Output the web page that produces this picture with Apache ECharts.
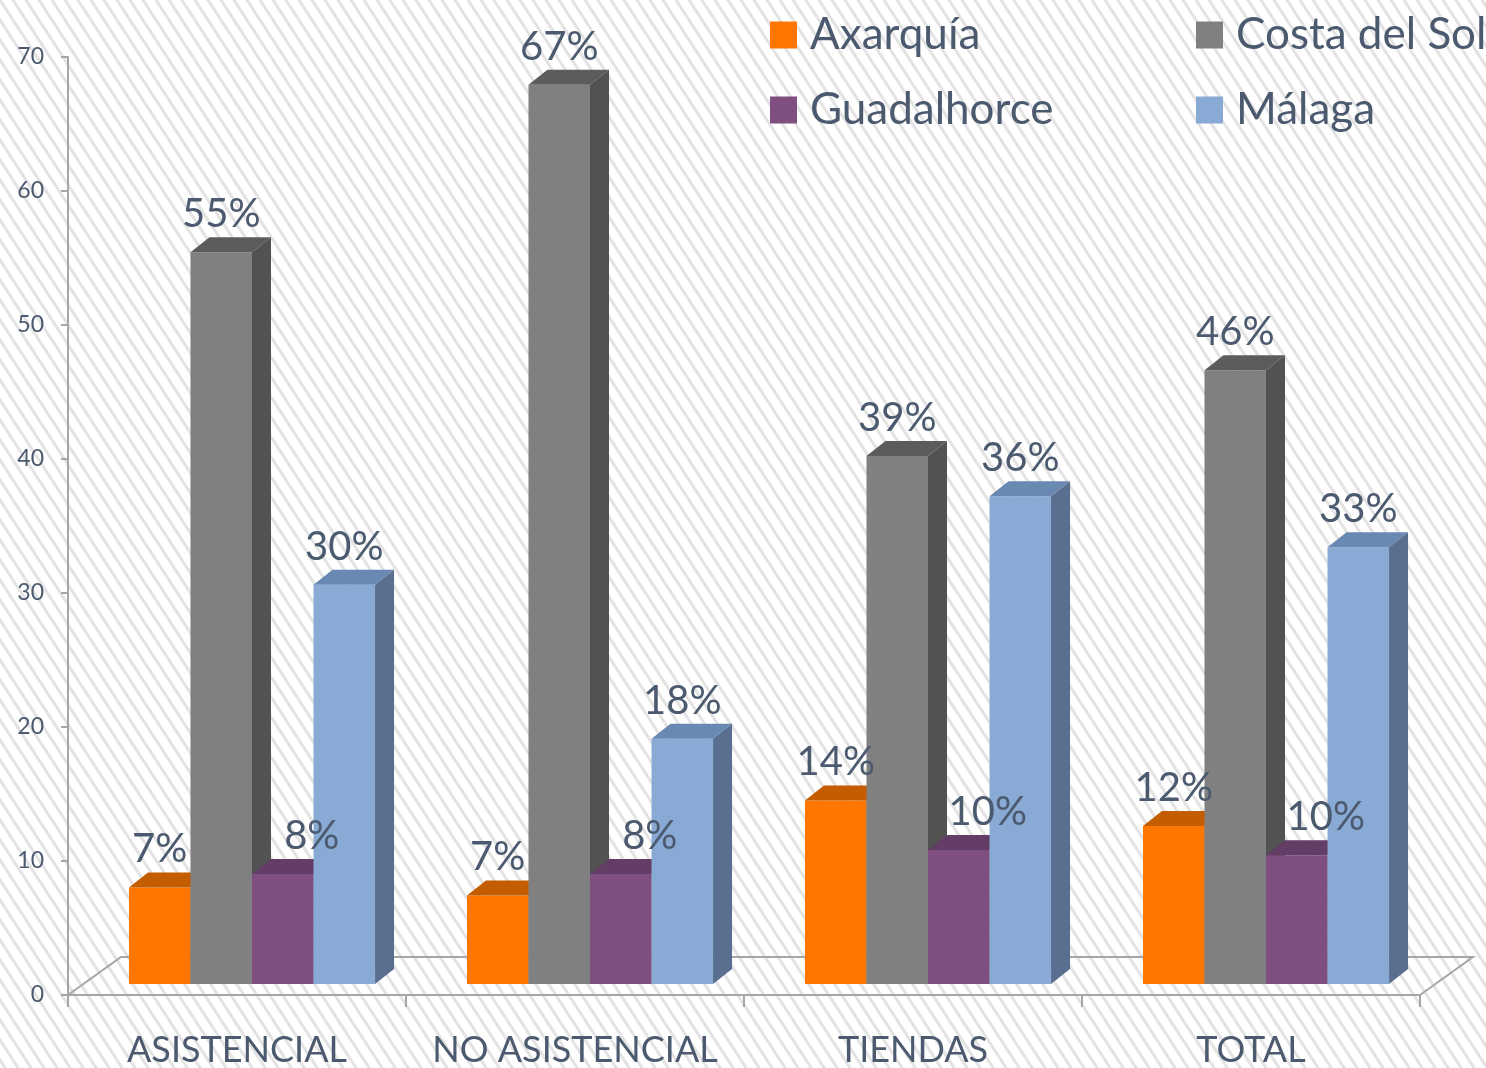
<!DOCTYPE html>
<html>
<head>
<meta charset="utf-8">
<title>Chart</title>
<script src="https://cdn.jsdelivr.net/npm/echarts@6/dist/echarts.min.js"></script>
<style>
  html, body { margin: 0; padding: 0; background: #fff; }
  #chart { width: 1486px; height: 1068px; }
</style>
</head>
<body>
<div id="chart"></div>
<script>
// datos
const categories = ['ASISTENCIAL', 'NO ASISTENCIAL', 'TIENDAS', 'TOTAL'];
const seriesNames = ['Axarquía', 'Costa del Sol', 'Guadalhorce', 'Málaga'];
const axarquia = [7.2, 6.6, 13.7, 11.8];
const costaDelSol = [54.6, 67.1, 39.4, 45.8];
const guadalhorce = [8.2, 8.2, 10.0, 9.6];
const malaga = [29.8, 18.3, 36.4, 32.6];
const yTicks = [0, 10, 20, 30, 40, 50, 60, 70];

// colores: frente, tapa, lateral; dx = desplazamiento de la etiqueta
const palette = [
  { front: '#FF7700', top: '#C45C00', side: '#B05200', dx: 0 },
  { front: '#808080', top: '#5C5C5C', side: '#525252', dx: 0 },
  { front: '#7F4F81', top: '#633D66', side: '#5A375C', dx: 29 },
  { front: '#89AAD4', top: '#6A89B2', side: '#5A6F90', dx: 0 }
];
const textColor = '#4B5A6E';
const lineColor = '#A6A6A6';
const FONT = 'Lato, "Open Sans", sans-serif';

// fondo rayado
const makePattern = () => {
  const w = 13, h = 20;
  const c = document.createElement('canvas');
  c.width = w; c.height = h;
  const ctx = c.getContext('2d');
  ctx.fillStyle = '#ffffff';
  ctx.fillRect(0, 0, w, h);
  ctx.strokeStyle = '#E3E3E3';
  ctx.lineWidth = 3;
  for (let k = -1; k <= 1; k++) {
    ctx.beginPath();
    ctx.moveTo(k * w - w, -h);
    ctx.lineTo(k * w + 2 * w, 2 * h);
    ctx.stroke();
  }
  return c;
};

const chart = echarts.init(document.getElementById('chart'));

const DX = 19, DY = 15;     // profundidad de las barras
const LIFT = 11, SHIFT = 15; // barras a media profundidad del suelo

// geometría común de una barra
const barBox = (api, idx) => {
  const ci = api.value(0);
  const v = api.value(1);
  const base = api.coord([ci, 0]);
  const top = api.coord([ci, v]);
  const band = api.size([1, 0])[0];
  const bw = band * 0.182;
  const cx = base[0] + (idx - 1.5) * bw + SHIFT;
  return { v, cx, bw, x0: cx - bw / 2, x1: cx + bw / 2, yb: base[1] - LIFT, yt: top[1] - LIFT };
};

const makeBarSeries = (name, values, idx) => ({
  name,
  type: 'custom',
  z: 2,
  itemStyle: { color: palette[idx].front },
  encode: { x: 0, y: 1 },
  data: values.map((v, i) => [i, v]),
  renderItem: (params, api) => {
    const b = barBox(api, idx);
    const col = palette[idx];
    return {
      type: 'group',
      children: [
        {
          type: 'rect',
          shape: { x: b.x0, y: b.yt, width: b.bw, height: b.yb - b.yt },
          style: { fill: col.front }
        },
        {
          type: 'polygon',
          shape: { points: [[b.x0, b.yt], [b.x0 + DX, b.yt - DY], [b.x1 + DX, b.yt - DY], [b.x1, b.yt]] },
          style: { fill: col.top }
        },
        {
          type: 'polygon',
          shape: { points: [[b.x1, b.yt], [b.x1 + DX, b.yt - DY], [b.x1 + DX, b.yb - DY], [b.x1, b.yb]] },
          style: { fill: col.side }
        }
      ]
    };
  }
});

// etiquetas encima de todas las barras
const makeLabelSeries = (name, values, idx) => ({
  name: name + ' etiqueta',
  type: 'custom',
  z: 5,
  silent: true,
  encode: { x: 0, y: 1 },
  data: values.map((v, i) => [i, v]),
  renderItem: (params, api) => {
    const b = barBox(api, idx);
    return {
      type: 'text',
      style: {
        text: Math.round(b.v) + '%',
        x: b.cx + palette[idx].dx,
        y: b.yt - DY - 3,
        align: 'center',
        verticalAlign: 'bottom',
        fill: textColor,
        font: '40px ' + FONT
      }
    };
  }
});

// suelo en perspectiva
const floorSeries = {
  name: 'suelo',
  type: 'custom',
  silent: true,
  encode: { x: 0, y: 1 },
  data: [[0, 0]],
  z: 1,
  renderItem: (params, api) => {
    const band = api.size([1, 0])[0];
    const p0 = api.coord([0, 0]);
    const p3 = api.coord([categories.length - 1, 0]);
    const left = p0[0] - band / 2;
    const right = p3[0] + band / 2;
    const y0 = p0[1];
    return {
      type: 'polyline',
      shape: { points: [[left, y0], [left + 53, y0 - 38], [right + 53, y0 - 38], [right, y0]] },
      style: { stroke: lineColor, lineWidth: 2, fill: null }
    };
  }
};

const legendCommon = {
  orient: 'vertical',
  top: 8,
  icon: 'rect',
  itemWidth: 27,
  itemHeight: 27,
  itemGap: 31,
  textStyle: { color: textColor, fontSize: 44, fontFamily: FONT, padding: [0, 0, 0, 8] },
  selectedMode: false
};

const option = {
  backgroundColor: { image: makePattern(), repeat: 'repeat' },
  animation: false,
  legend: [
    Object.assign({}, legendCommon, { left: 765, data: ['Axarquía', 'Guadalhorce'] }),
    Object.assign({}, legendCommon, { left: 1191, data: ['Costa del Sol', 'Málaga'] })
  ],
  grid: { left: 68, right: 66, top: 57, bottom: 73, containLabel: false },
  xAxis: {
    type: 'category',
    data: categories,
    axisLine: { lineStyle: { color: lineColor, width: 2 } },
    axisTick: { show: true, interval: 0, length: 12, lineStyle: { color: lineColor, width: 2 } },
    axisLabel: { interval: 0, color: textColor, fontSize: 36, fontFamily: FONT, margin: 37 }
  },
  yAxis: {
    type: 'value',
    min: yTicks[0],
    max: yTicks[yTicks.length - 1],
    interval: 10,
    splitLine: { show: false },
    axisLine: { show: true, lineStyle: { color: lineColor, width: 2 } },
    axisTick: { show: true, length: 7, lineStyle: { color: lineColor, width: 2 } },
    axisLabel: { color: textColor, fontSize: 23, fontFamily: FONT, margin: 24 }
  },
  series: [
    floorSeries,
    makeBarSeries(seriesNames[0], axarquia, 0),
    makeBarSeries(seriesNames[1], costaDelSol, 1),
    makeBarSeries(seriesNames[2], guadalhorce, 2),
    makeBarSeries(seriesNames[3], malaga, 3),
    makeLabelSeries(seriesNames[0], axarquia, 0),
    makeLabelSeries(seriesNames[1], costaDelSol, 1),
    makeLabelSeries(seriesNames[2], guadalhorce, 2),
    makeLabelSeries(seriesNames[3], malaga, 3)
  ]
};

chart.setOption(option);
</script>
</body>
</html>
